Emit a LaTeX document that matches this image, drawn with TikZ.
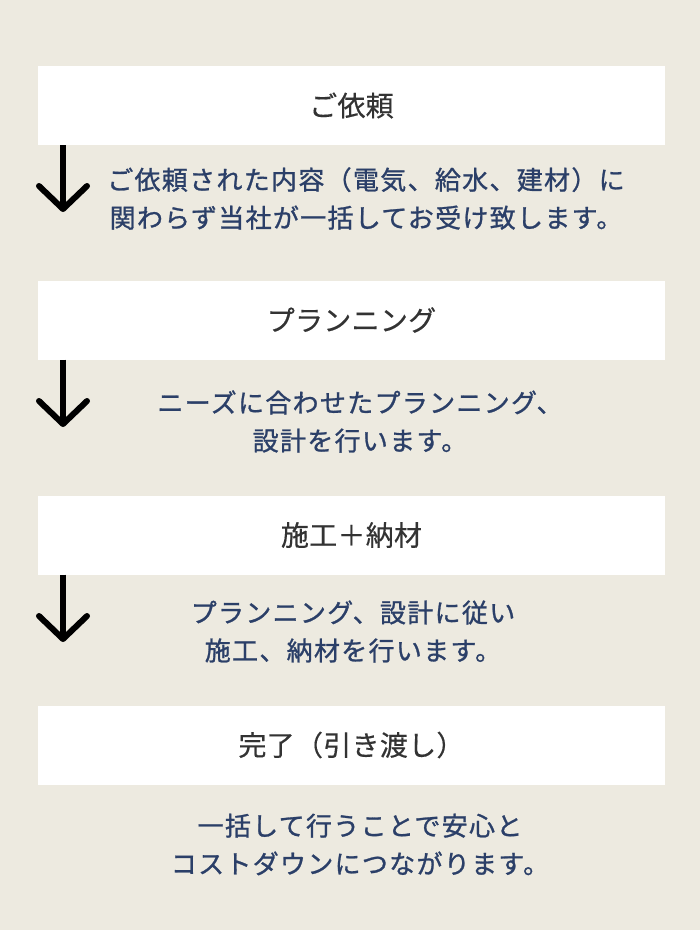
\documentclass[tikz,border=0pt]{standalone}
\usepackage{fontspec}
\setmainfont{Noto Sans CJK JP}
\newfontfamily\titlefont{Noto Sans CJK JP}[LetterSpace=1,FakeBold=0.4]
\newfontfamily\notefont{Noto Sans CJK JP}[LetterSpace=5,FakeBold=1]
\usetikzlibrary{arrows.meta}
\definecolor{paper}{HTML}{EDEAE0}
\definecolor{titleink}{HTML}{333333}
\definecolor{navy}{HTML}{2B3F68}

\begin{document}
\begin{tikzpicture}[
  x=1pt,y=-1pt,
  stage/.style={fill=white,minimum width=627pt,minimum height=79pt,inner sep=0pt,
    text=titleink,font=\titlefont\fontsize{28}{32}\selectfont},
  note/.style={align=center,inner sep=0pt,text=navy,
    font=\notefont\fontsize{26}{38}\selectfont},
  flow/.style={->,line width=6pt},
  >={Straight Barb[length=23pt,width=48pt,round]}]
  \fill[paper] (0,0) rectangle (700,930);
  \useasboundingbox (0,0) rectangle (700,930);
  \node[stage] (order) at (351.5,105.5) {ご依頼};
  \node[note] (orderinfo) at (366,198.5) {ご依頼された内容（電気、給水、建材）に\\関わらず当社が一括してお受け致します。};
  \node[stage] (plan) at (351.5,320) {プランニング};
  \node[note] (planinfo) at (360,421.5) {ニーズに合わせたプランニング、\\設計を行います。};
  \node[stage] (build) at (351.5,535) {施工＋納材};
  \node[note] (buildinfo) at (353,631.5) {プランニング、設計に従い\\施工、納材を行います。};
  \node[stage] (done) at (351.5,745) {完了（引き渡し）};
  \node[note] (doneinfo) at (360,844.5) {一括して行うことで安心と\\コストダウンにつながります。};
  \coordinate (tip1) at (63,212);
  \coordinate (tip2) at (63,427);
  \coordinate (tip3) at (63,642);
  \draw[flow] (order.south -| tip1) -- (tip1);
  \draw[flow] (plan.south -| tip2) -- (tip2);
  \draw[flow] (build.south -| tip3) -- (tip3);
\end{tikzpicture}
\end{document}
